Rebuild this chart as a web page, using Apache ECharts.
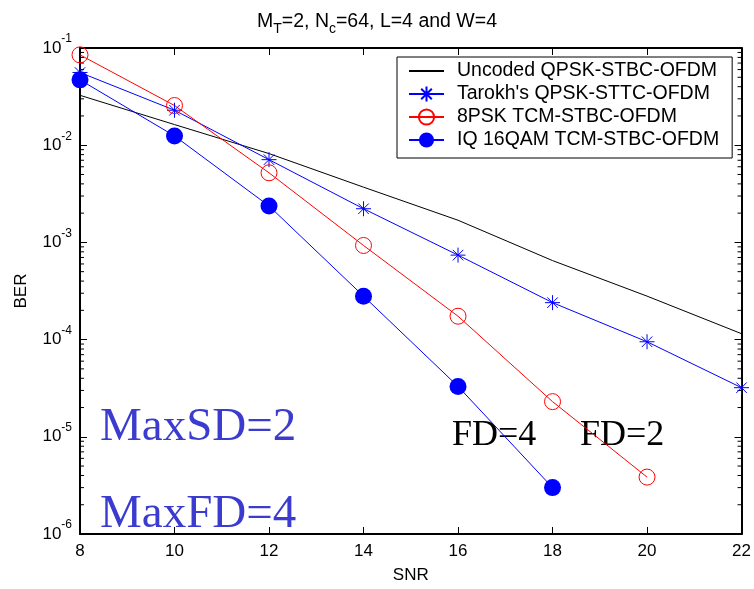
<!DOCTYPE html>
<html>
<head>
<meta charset="utf-8">
<script src="https://cdn.jsdelivr.net/npm/echarts@6/dist/echarts.min.js"></script>
<style>
  html, body { margin: 0; padding: 0; background: #fff; }
  #chart { width: 754px; height: 589px; }
</style>
</head>
<body>
<div id="chart"></div>
<script>
// values
const snr = [8, 10, 12, 14, 16, 18, 20, 22];
const uncoded = [0.0326, 0.0163, 0.0082, 0.0037, 0.00169, 0.00065, 0.00028, 0.000115];
const tarokh = [0.056, 0.0229, 0.0071, 0.00222, 0.00074, 0.00024, 0.000095, 0.000032];
const psk8 = [0.085, 0.0256, 0.0052, 0.00093, 0.000174, 0.000023, 0.00000385];
const qam16 = [0.047, 0.01245, 0.00237, 0.00028, 0.000033, 0.000003];
const names = [
  'Uncoded QPSK-STBC-OFDM',
  "Tarokh's QPSK-STTC-OFDM",
  '8PSK TCM-STBC-OFDM',
  'IQ 16QAM TCM-STBC-OFDM',
];

// minor ticks of the log axis (2..9 in each decade)
const minorTicks = [];
for (let e = -6; e < -1; e++) {
  for (let k = 2; k <= 9; k++) minorTicks.push([8, k * Math.pow(10, e)]);
}

const pairs = (ys) => ys.map((y, i) => [snr[i], y]);
const font = 'Liberation Sans, Arial, sans-serif';
const serif = '"Liberation Serif", "Times New Roman", serif';
const star = 'path://M0,-10L0,10M-10,0L10,0M-7,-7L7,7M-7,7L7,-7';

const chart = echarts.init(document.getElementById('chart'));

const yLabel = {
  fontFamily: font,
  color: '#000',
  margin: 8,
  formatter: (v) => '{b|10}{s|' + Math.round(Math.log10(v)) + '}',
  rich: {
    b: { fontSize: 17, fontFamily: font, color: '#000', verticalAlign: 'middle', lineHeight: 30 },
    s: { fontSize: 12, fontFamily: font, color: '#000', verticalAlign: 'top', lineHeight: 12 },
  },
};

const boxAxis = {
  axisLine: { lineStyle: { color: '#000', width: 2 } },
  axisTick: { inside: true, length: 7, lineStyle: { color: '#000', width: 1 } },
  splitLine: { show: false },
};

const option = {
  animation: false,
  title: {
    text: '{t|M}{u|T}{t|=2, N}{u|c}{t|=64, L=4 and W=4}',
    left: 'center',
    top: 3,
    textStyle: {
      fontWeight: 'normal',
      rich: {
        t: { fontSize: 19.5, fontFamily: font, fontWeight: 'normal', color: '#000', verticalAlign: 'middle', lineHeight: 28 },
        u: { fontSize: 14, fontFamily: font, fontWeight: 'normal', color: '#000', verticalAlign: 'bottom', lineHeight: 14 },
      },
    },
  },
  grid: { left: 80, right: 10, top: 48, bottom: 51 },
  legend: {
    orient: 'vertical',
    left: 397,
    top: 57,
    padding: [4, 13, 8, 11],
    itemWidth: 35,
    itemHeight: 19,
    itemGap: 3,
    borderColor: '#000',
    borderWidth: 1,
    backgroundColor: '#fff',
    textStyle: { fontSize: 19.5, fontFamily: font, color: '#000', lineHeight: 19, padding: [0, 0, 0, 8] },
    data: names,
  },
  xAxis: [Object.assign({
    type: 'value',
    min: 8,
    max: 22,
    interval: 2,
    name: 'SNR',
    nameLocation: 'middle',
    nameGap: 33,
    nameTextStyle: { fontSize: 17, fontFamily: font, color: '#000' },
    axisLabel: { fontSize: 17, fontFamily: font, color: '#000', margin: 9 },
  }, boxAxis), Object.assign({
    type: 'value',
    position: 'top',
    min: 8,
    max: 22,
    interval: 2,
    axisLabel: { show: false },
  }, boxAxis)],
  yAxis: [Object.assign({
    type: 'log',
    logBase: 10,
    min: 1e-6,
    max: 1e-1,
    name: 'BER',
    nameLocation: 'middle',
    nameGap: 50,
    nameTextStyle: { fontSize: 17, fontFamily: font, color: '#000' },
    axisLabel: yLabel,
  }, boxAxis), Object.assign({
    type: 'log',
    logBase: 10,
    min: 1e-6,
    max: 1e-1,
    position: 'right',
    axisLabel: { show: false },
  }, boxAxis)],
  series: [
    {
      type: 'custom',
      silent: true,
      clip: false,
      data: minorTicks,
      renderItem: (params, api) => {
        const l = api.coord([8, api.value(1)]);
        const r = api.coord([22, api.value(1)]);
        const s = { stroke: '#000', lineWidth: 1 };
        return {
          type: 'group',
          children: [
            { type: 'line', shape: { x1: l[0], y1: l[1], x2: l[0] + 4, y2: l[1] }, style: s },
            { type: 'line', shape: { x1: r[0], y1: r[1], x2: r[0] - 4, y2: r[1] }, style: s },
          ],
        };
      },
    },
    {
      name: names[0],
      type: 'line',
      data: pairs(uncoded),
      symbol: 'none',
      clip: false,
      color: '#000',
      itemStyle: { color: 'rgba(0,0,0,0)', borderWidth: 0 },
      lineStyle: { color: '#000', width: 1 },
      emphasis: { disabled: true },
    },
    {
      name: names[1],
      type: 'line',
      data: pairs(tarokh),
      symbol: star,
      symbolSize: 15,
      clip: false,
      color: '#0000ff',
      itemStyle: { color: 'rgba(0,0,0,0)', borderColor: '#0000ff', borderWidth: 1 },
      lineStyle: { color: '#0000ff', width: 1 },
      emphasis: { disabled: true },
    },
    {
      name: names[2],
      type: 'line',
      data: pairs(psk8),
      symbol: 'circle',
      symbolSize: 16,
      clip: false,
      color: '#ff0000',
      itemStyle: { color: 'rgba(0,0,0,0)', borderColor: '#ff0000', borderWidth: 1 },
      lineStyle: { color: '#ff0000', width: 1 },
      emphasis: { disabled: true },
    },
    {
      name: names[3],
      type: 'line',
      data: pairs(qam16),
      symbol: 'circle',
      symbolSize: 17,
      clip: false,
      color: '#0000ff',
      itemStyle: { color: '#0000ff', borderWidth: 0 },
      lineStyle: { color: '#0000ff', width: 1 },
      emphasis: { disabled: true },
    },
  ],
  graphic: [
    { type: 'text', left: 100, top: 404, style: { text: 'MaxSD=2', font: '47px ' + serif, fill: '#3b3bd0' } },
    { type: 'text', left: 100, top: 491, style: { text: 'MaxFD=4', font: '47px ' + serif, fill: '#3b3bd0' } },
    { type: 'text', left: 452, top: 418, style: { text: 'FD=4', font: '36px ' + serif, fill: '#000' } },
    { type: 'text', left: 580, top: 418, style: { text: 'FD=2', font: '36px ' + serif, fill: '#000' } },
  ],
};

chart.setOption(option);
</script>
</body>
</html>
